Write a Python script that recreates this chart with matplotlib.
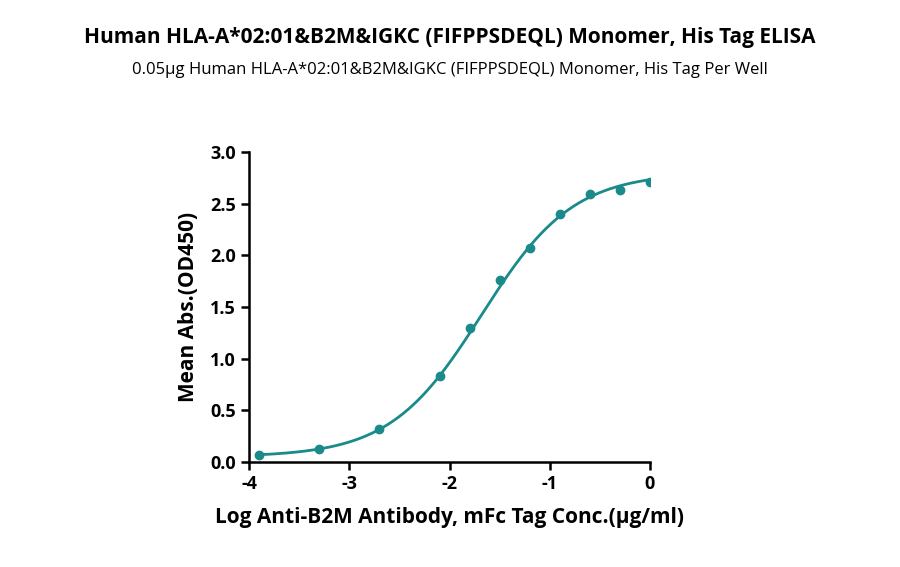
import numpy as np
import matplotlib
matplotlib.use("Agg")
import matplotlib.pyplot as plt

plt.rcParams['font.family'] = ['Open Sans', 'DejaVu Sans']
plt.rcParams['axes.unicode_minus'] = False

log_conc = [-3.9, -3.3, -2.7, -2.1, -1.8, -1.5, -1.2, -0.9, -0.6, -0.3, 0.0]
od450 = [0.07, 0.13, 0.32, 0.83, 1.30, 1.76, 2.07, 2.40, 2.59, 2.63, 2.71]

# 4PL fit parameters (estimated)
bottom, top, logec50, hill = 0.05, 2.8, -1.68, 0.95

color = '#1a8a8a'

fig = plt.figure(figsize=(9, 5.67), dpi=100)
ax = fig.add_axes([0.277, 0.185, 0.445, 0.547])

xs = np.linspace(-3.9, 0, 300)
ys = bottom + (top - bottom) / (1 + 10 ** ((logec50 - xs) * hill))
ax.plot(xs, ys, color=color, lw=2)
ax.plot(log_conc, od450, 'o', color=color, ms=6)

ax.set_xlim(-4, 0)
ax.set_ylim(0, 3)
ax.set_xticks([-4, -3, -2, -1, 0])
ax.set_xticklabels(['-4', '-3', '-2', '-1', '0'])
ax.set_yticks([0, 0.5, 1, 1.5, 2, 2.5, 3])
ax.set_yticklabels(['0.0', '0.5', '1.0', '1.5', '2.0', '2.5', '3.0'])
for s in ['top', 'right']:
    ax.spines[s].set_visible(False)
for s in ['left', 'bottom']:
    ax.spines[s].set_linewidth(1.8)
ax.tick_params(width=1.8, length=6, labelsize=13)
for lab in ax.get_xticklabels() + ax.get_yticklabels():
    lab.set_fontweight('bold')

ax.set_xlabel('Log Anti-B2M Antibody, mFc Tag Conc.(µg/ml)', fontsize=15, fontweight='bold', labelpad=10)
ax.set_ylabel('Mean Abs.(OD450)', fontsize=15, fontweight='bold', labelpad=8)

fig.text(0.5, 0.925, 'Human HLA-A*02:01&B2M&IGKC (FIFPPSDEQL) Monomer, His Tag ELISA',
         ha='center', fontsize=15, fontweight='bold')
fig.text(0.5, 0.87, '0.05µg Human HLA-A*02:01&B2M&IGKC (FIFPPSDEQL) Monomer, His Tag Per Well',
         ha='center', fontsize=12)

fig.savefig('out.png')
